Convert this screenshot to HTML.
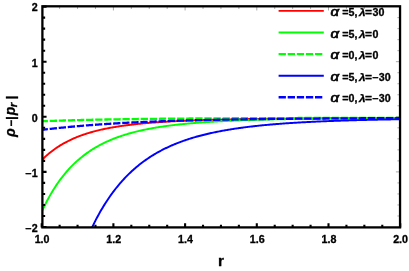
<!DOCTYPE html>
<html><head><meta charset="utf-8"><title>plot</title>
<style>html,body{margin:0;padding:0;background:#fff;width:409px;height:271px;overflow:hidden}</style>
</head><body>
<svg width="409" height="271" viewBox="0 0 409 271" style="position:absolute;left:0;top:0;will-change:transform;filter:blur(0.35px)">
<rect width="409" height="271" fill="#fff"/>
<defs><clipPath id="c"><rect x="42.4" y="6.3" width="357.65000000000003" height="221.1"/></clipPath></defs>
<g clip-path="url(#c)" fill="none" stroke-linejoin="round">
<path d="M42.2,159.68 L43.2,158.69 L44.2,157.72 L45.2,156.79 L46.2,155.88 L47.2,154.99 L48.2,154.13 L49.2,153.29 L50.2,152.48 L51.2,151.69 L52.2,150.92 L53.2,150.17 L54.2,149.44 L55.2,148.73 L56.2,148.03 L57.2,147.36 L58.2,146.70 L59.2,146.06 L60.2,145.44 L61.2,144.84 L62.2,144.25 L63.2,143.67 L64.2,143.11 L65.2,142.56 L66.2,142.03 L67.2,141.51 L68.2,141.00 L69.2,140.51 L70.2,140.03 L71.2,139.56 L72.2,139.10 L73.2,138.65 L74.2,138.22 L75.2,137.79 L76.2,137.38 L77.2,136.97 L78.2,136.58 L79.2,136.19 L80.2,135.82 L81.2,135.45 L82.2,135.09 L83.2,134.74 L84.2,134.40 L85.2,134.07 L86.2,133.74 L87.2,133.42 L88.2,133.11 L89.2,132.81 L90.2,132.51 L91.2,132.22 L92.2,131.94 L93.2,131.66 L94.2,131.39 L95.2,131.13 L96.2,130.87 L97.2,130.62 L98.2,130.37 L99.2,130.13 L100.2,129.90 L101.2,129.67 L102.2,129.44 L103.2,129.22 L104.2,129.01 L105.2,128.80 L106.2,128.59 L107.2,128.39 L108.2,128.19 L109.2,128.00 L110.2,127.81 L111.2,127.63 L112.2,127.45 L113.2,127.27 L114.2,127.10 L115.2,126.93 L116.2,126.77 L117.2,126.60 L118.2,126.45 L119.2,126.29 L120.2,126.14 L121.2,125.99 L122.2,125.85 L123.2,125.70 L124.2,125.57 L125.2,125.43 L126.2,125.30 L127.2,125.17 L128.2,125.04 L129.2,124.91 L130.2,124.79 L131.2,124.67 L132.2,124.55 L133.2,124.44 L134.2,124.32 L135.2,124.21 L136.2,124.10 L137.2,124.00 L138.2,123.89 L139.2,123.79 L140.2,123.69 L141.2,123.59 L142.2,123.50 L143.2,123.40 L144.2,123.31 L145.2,123.22 L146.2,123.13 L147.2,123.05 L148.2,122.96 L149.2,122.88 L150.2,122.80 L151.2,122.72 L152.2,122.64 L153.2,122.56 L154.2,122.48 L155.2,122.41 L156.2,122.34 L157.2,122.27 L158.2,122.20 L159.2,122.13 L160.2,122.06 L161.2,121.99 L162.2,121.93 L163.2,121.87 L164.2,121.80 L165.2,121.74 L166.2,121.68 L167.2,121.62 L168.2,121.56 L169.2,121.51 L170.2,121.45 L171.2,121.40 L172.2,121.34 L173.2,121.29 L174.2,121.24 L175.2,121.19 L176.2,121.14 L177.2,121.09 L178.2,121.04 L179.2,120.99 L180.2,120.95 L181.2,120.90 L182.2,120.86 L183.2,120.81 L184.2,120.77 L185.2,120.73 L186.2,120.68 L187.2,120.64 L188.2,120.60 L189.2,120.56 L190.2,120.52 L191.2,120.49 L192.2,120.45 L193.2,120.41 L194.2,120.38 L195.2,120.34 L196.2,120.31 L197.2,120.27 L198.2,120.24 L199.2,120.20 L200.2,120.17 L201.2,120.14 L202.2,120.11 L203.2,120.08 L204.2,120.05 L205.2,120.02 L206.2,119.99 L207.2,119.96 L208.2,119.93 L209.2,119.90 L210.2,119.87 L211.2,119.84 L212.2,119.82 L213.2,119.79 L214.2,119.77 L215.2,119.74 L216.2,119.71 L217.2,119.69 L218.2,119.67 L219.2,119.64 L220.2,119.62 L221.2,119.60 L222.2,119.57 L223.2,119.55 L224.2,119.53 L225.2,119.51 L226.2,119.48 L227.2,119.46 L228.2,119.44 L229.2,119.42 L230.2,119.40 L231.2,119.38 L232.2,119.36 L233.2,119.34 L234.2,119.32 L235.2,119.31 L236.2,119.29 L237.2,119.27 L238.2,119.25 L239.2,119.23 L240.2,119.22 L241.2,119.20 L242.2,119.18 L243.2,119.17 L244.2,119.15 L245.2,119.13 L246.2,119.12 L247.2,119.10 L248.2,119.09 L249.2,119.07 L250.2,119.06 L251.2,119.04 L252.2,119.03 L253.2,119.01 L254.2,119.00 L255.2,118.99 L256.2,118.97 L257.2,118.96 L258.2,118.95 L259.2,118.93 L260.2,118.92 L261.2,118.91 L262.2,118.89 L263.2,118.88 L264.2,118.87 L265.2,118.86 L266.2,118.85 L267.2,118.83 L268.2,118.82 L269.2,118.81 L270.2,118.80 L271.2,118.79 L272.2,118.78 L273.2,118.77 L274.2,118.76 L275.2,118.75 L276.2,118.74 L277.2,118.73 L278.2,118.72 L279.2,118.71 L280.2,118.70 L281.2,118.69 L282.2,118.68 L283.2,118.67 L284.2,118.66 L285.2,118.65 L286.2,118.64 L287.2,118.63 L288.2,118.62 L289.2,118.61 L290.2,118.60 L291.2,118.60 L292.2,118.59 L293.2,118.58 L294.2,118.57 L295.2,118.56 L296.2,118.55 L297.2,118.55 L298.2,118.54 L299.2,118.53 L300.2,118.52 L301.2,118.52 L302.2,118.51 L303.2,118.50 L304.2,118.49 L305.2,118.49 L306.2,118.48 L307.2,118.47 L308.2,118.46 L309.2,118.46 L310.2,118.45 L311.2,118.44 L312.2,118.44 L313.2,118.43 L314.2,118.42 L315.2,118.42 L316.2,118.41 L317.2,118.41 L318.2,118.40 L319.2,118.39 L320.2,118.39 L321.2,118.38 L322.2,118.38 L323.2,118.37 L324.2,118.36 L325.2,118.36 L326.2,118.35 L327.2,118.35 L328.2,118.34 L329.2,118.34 L330.2,118.33 L331.2,118.33 L332.2,118.32 L333.2,118.31 L334.2,118.31 L335.2,118.30 L336.2,118.30 L337.2,118.29 L338.2,118.29 L339.2,118.28 L340.2,118.28 L341.2,118.28 L342.2,118.27 L343.2,118.27 L344.2,118.26 L345.2,118.26 L346.2,118.25 L347.2,118.25 L348.2,118.24 L349.2,118.24 L350.2,118.23 L351.2,118.23 L352.2,118.23 L353.2,118.22 L354.2,118.22 L355.2,118.21 L356.2,118.21 L357.2,118.20 L358.2,118.20 L359.2,118.20 L360.2,118.19 L361.2,118.19 L362.2,118.19 L363.2,118.18 L364.2,118.18 L365.2,118.17 L366.2,118.17 L367.2,118.17 L368.2,118.16 L369.2,118.16 L370.2,118.16 L371.2,118.15 L372.2,118.15 L373.2,118.14 L374.2,118.14 L375.2,118.14 L376.2,118.13 L377.2,118.13 L378.2,118.13 L379.2,118.12 L380.2,118.12 L381.2,118.12 L382.2,118.11 L383.2,118.11 L384.2,118.11 L385.2,118.11 L386.2,118.10 L387.2,118.10 L388.2,118.10 L389.2,118.09 L390.2,118.09 L391.2,118.09 L392.2,118.08 L393.2,118.08 L394.2,118.08 L395.2,118.08 L396.2,118.07 L397.2,118.07 L398.2,118.07 L399.2,118.06" stroke="#ff0000" stroke-width="1.95"/>
<path d="M42.2,210.69 L43.2,208.55 L44.2,206.48 L45.2,204.45 L46.2,202.48 L47.2,200.56 L48.2,198.70 L49.2,196.88 L50.2,195.11 L51.2,193.38 L52.2,191.70 L53.2,190.06 L54.2,188.46 L55.2,186.91 L56.2,185.39 L57.2,183.91 L58.2,182.47 L59.2,181.06 L60.2,179.69 L61.2,178.36 L62.2,177.05 L63.2,175.78 L64.2,174.54 L65.2,173.33 L66.2,172.15 L67.2,171.00 L68.2,169.87 L69.2,168.77 L70.2,167.70 L71.2,166.66 L72.2,165.64 L73.2,164.64 L74.2,163.67 L75.2,162.72 L76.2,161.79 L77.2,160.88 L78.2,160.00 L79.2,159.14 L80.2,158.29 L81.2,157.47 L82.2,156.66 L83.2,155.87 L84.2,155.11 L85.2,154.35 L86.2,153.62 L87.2,152.90 L88.2,152.20 L89.2,151.51 L90.2,150.84 L91.2,150.19 L92.2,149.55 L93.2,148.92 L94.2,148.31 L95.2,147.71 L96.2,147.13 L97.2,146.55 L98.2,145.99 L99.2,145.45 L100.2,144.91 L101.2,144.39 L102.2,143.88 L103.2,143.37 L104.2,142.88 L105.2,142.40 L106.2,141.93 L107.2,141.48 L108.2,141.03 L109.2,140.59 L110.2,140.16 L111.2,139.73 L112.2,139.32 L113.2,138.92 L114.2,138.52 L115.2,138.14 L116.2,137.76 L117.2,137.39 L118.2,137.02 L119.2,136.67 L120.2,136.32 L121.2,135.98 L122.2,135.65 L123.2,135.32 L124.2,135.00 L125.2,134.69 L126.2,134.38 L127.2,134.08 L128.2,133.78 L129.2,133.50 L130.2,133.21 L131.2,132.94 L132.2,132.66 L133.2,132.40 L134.2,132.14 L135.2,131.88 L136.2,131.63 L137.2,131.39 L138.2,131.15 L139.2,130.91 L140.2,130.68 L141.2,130.46 L142.2,130.23 L143.2,130.02 L144.2,129.80 L145.2,129.59 L146.2,129.39 L147.2,129.19 L148.2,128.99 L149.2,128.80 L150.2,128.61 L151.2,128.42 L152.2,128.24 L153.2,128.06 L154.2,127.89 L155.2,127.72 L156.2,127.55 L157.2,127.38 L158.2,127.22 L159.2,127.06 L160.2,126.90 L161.2,126.75 L162.2,126.60 L163.2,126.45 L164.2,126.31 L165.2,126.17 L166.2,126.03 L167.2,125.89 L168.2,125.76 L169.2,125.63 L170.2,125.50 L171.2,125.37 L172.2,125.25 L173.2,125.12 L174.2,125.00 L175.2,124.89 L176.2,124.77 L177.2,124.66 L178.2,124.55 L179.2,124.44 L180.2,124.33 L181.2,124.22 L182.2,124.12 L183.2,124.02 L184.2,123.92 L185.2,123.82 L186.2,123.73 L187.2,123.63 L188.2,123.54 L189.2,123.45 L190.2,123.36 L191.2,123.27 L192.2,123.18 L193.2,123.10 L194.2,123.02 L195.2,122.93 L196.2,122.85 L197.2,122.77 L198.2,122.70 L199.2,122.62 L200.2,122.55 L201.2,122.47 L202.2,122.40 L203.2,122.33 L204.2,122.26 L205.2,122.19 L206.2,122.12 L207.2,122.06 L208.2,121.99 L209.2,121.93 L210.2,121.86 L211.2,121.80 L212.2,121.74 L213.2,121.68 L214.2,121.62 L215.2,121.56 L216.2,121.51 L217.2,121.45 L218.2,121.40 L219.2,121.34 L220.2,121.29 L221.2,121.24 L222.2,121.19 L223.2,121.14 L224.2,121.09 L225.2,121.04 L226.2,120.99 L227.2,120.94 L228.2,120.90 L229.2,120.85 L230.2,120.80 L231.2,120.76 L232.2,120.72 L233.2,120.67 L234.2,120.63 L235.2,120.59 L236.2,120.55 L237.2,120.51 L238.2,120.47 L239.2,120.43 L240.2,120.39 L241.2,120.36 L242.2,120.32 L243.2,120.28 L244.2,120.25 L245.2,120.21 L246.2,120.18 L247.2,120.14 L248.2,120.11 L249.2,120.08 L250.2,120.04 L251.2,120.01 L252.2,119.98 L253.2,119.95 L254.2,119.92 L255.2,119.89 L256.2,119.86 L257.2,119.83 L258.2,119.80 L259.2,119.77 L260.2,119.74 L261.2,119.72 L262.2,119.69 L263.2,119.66 L264.2,119.64 L265.2,119.61 L266.2,119.59 L267.2,119.56 L268.2,119.54 L269.2,119.51 L270.2,119.49 L271.2,119.46 L272.2,119.44 L273.2,119.42 L274.2,119.40 L275.2,119.37 L276.2,119.35 L277.2,119.33 L278.2,119.31 L279.2,119.29 L280.2,119.27 L281.2,119.25 L282.2,119.23 L283.2,119.21 L284.2,119.19 L285.2,119.17 L286.2,119.15 L287.2,119.13 L288.2,119.11 L289.2,119.10 L290.2,119.08 L291.2,119.06 L292.2,119.04 L293.2,119.03 L294.2,119.01 L295.2,118.99 L296.2,118.98 L297.2,118.96 L298.2,118.94 L299.2,118.93 L300.2,118.91 L301.2,118.90 L302.2,118.88 L303.2,118.87 L304.2,118.85 L305.2,118.84 L306.2,118.83 L307.2,118.81 L308.2,118.80 L309.2,118.78 L310.2,118.77 L311.2,118.76 L312.2,118.74 L313.2,118.73 L314.2,118.72 L315.2,118.71 L316.2,118.69 L317.2,118.68 L318.2,118.67 L319.2,118.66 L320.2,118.65 L321.2,118.64 L322.2,118.62 L323.2,118.61 L324.2,118.60 L325.2,118.59 L326.2,118.58 L327.2,118.57 L328.2,118.56 L329.2,118.55 L330.2,118.54 L331.2,118.53 L332.2,118.52 L333.2,118.51 L334.2,118.50 L335.2,118.49 L336.2,118.48 L337.2,118.47 L338.2,118.46 L339.2,118.45 L340.2,118.44 L341.2,118.44 L342.2,118.43 L343.2,118.42 L344.2,118.41 L345.2,118.40 L346.2,118.39 L347.2,118.39 L348.2,118.38 L349.2,118.37 L350.2,118.36 L351.2,118.35 L352.2,118.35 L353.2,118.34 L354.2,118.33 L355.2,118.32 L356.2,118.32 L357.2,118.31 L358.2,118.30 L359.2,118.30 L360.2,118.29 L361.2,118.28 L362.2,118.28 L363.2,118.27 L364.2,118.26 L365.2,118.26 L366.2,118.25 L367.2,118.24 L368.2,118.24 L369.2,118.23 L370.2,118.23 L371.2,118.22 L372.2,118.21 L373.2,118.21 L374.2,118.20 L375.2,118.20 L376.2,118.19 L377.2,118.18 L378.2,118.18 L379.2,118.17 L380.2,118.17 L381.2,118.16 L382.2,118.16 L383.2,118.15 L384.2,118.15 L385.2,118.14 L386.2,118.14 L387.2,118.13 L388.2,118.13 L389.2,118.12 L390.2,118.12 L391.2,118.11 L392.2,118.11 L393.2,118.10 L394.2,118.10 L395.2,118.10 L396.2,118.09 L397.2,118.09 L398.2,118.08 L399.2,118.08" stroke="#00ff00" stroke-width="1.95"/>
<path d="M42.2,121.26 L43.2,121.22 L44.2,121.18 L45.2,121.14 L46.2,121.10 L47.2,121.06 L48.2,121.02 L49.2,120.99 L50.2,120.95 L51.2,120.91 L52.2,120.88 L53.2,120.84 L54.2,120.81 L55.2,120.77 L56.2,120.74 L57.2,120.71 L58.2,120.67 L59.2,120.64 L60.2,120.61 L61.2,120.58 L62.2,120.54 L63.2,120.51 L64.2,120.48 L65.2,120.45 L66.2,120.42 L67.2,120.39 L68.2,120.36 L69.2,120.34 L70.2,120.31 L71.2,120.28 L72.2,120.25 L73.2,120.22 L74.2,120.20 L75.2,120.17 L76.2,120.15 L77.2,120.12 L78.2,120.09 L79.2,120.07 L80.2,120.04 L81.2,120.02 L82.2,120.00 L83.2,119.97 L84.2,119.95 L85.2,119.92 L86.2,119.90 L87.2,119.88 L88.2,119.86 L89.2,119.83 L90.2,119.81 L91.2,119.79 L92.2,119.77 L93.2,119.75 L94.2,119.73 L95.2,119.71 L96.2,119.69 L97.2,119.67 L98.2,119.65 L99.2,119.63 L100.2,119.61 L101.2,119.59 L102.2,119.57 L103.2,119.55 L104.2,119.53 L105.2,119.51 L106.2,119.49 L107.2,119.48 L108.2,119.46 L109.2,119.44 L110.2,119.42 L111.2,119.41 L112.2,119.39 L113.2,119.37 L114.2,119.36 L115.2,119.34 L116.2,119.33 L117.2,119.31 L118.2,119.29 L119.2,119.28 L120.2,119.26 L121.2,119.25 L122.2,119.23 L123.2,119.22 L124.2,119.20 L125.2,119.19 L126.2,119.17 L127.2,119.16 L128.2,119.15 L129.2,119.13 L130.2,119.12 L131.2,119.11 L132.2,119.09 L133.2,119.08 L134.2,119.07 L135.2,119.05 L136.2,119.04 L137.2,119.03 L138.2,119.01 L139.2,119.00 L140.2,118.99 L141.2,118.98 L142.2,118.97 L143.2,118.95 L144.2,118.94 L145.2,118.93 L146.2,118.92 L147.2,118.91 L148.2,118.90 L149.2,118.89 L150.2,118.87 L151.2,118.86 L152.2,118.85 L153.2,118.84 L154.2,118.83 L155.2,118.82 L156.2,118.81 L157.2,118.80 L158.2,118.79 L159.2,118.78 L160.2,118.77 L161.2,118.76 L162.2,118.75 L163.2,118.74 L164.2,118.73 L165.2,118.72 L166.2,118.71 L167.2,118.70 L168.2,118.70 L169.2,118.69 L170.2,118.68 L171.2,118.67 L172.2,118.66 L173.2,118.65 L174.2,118.64 L175.2,118.63 L176.2,118.63 L177.2,118.62 L178.2,118.61 L179.2,118.60 L180.2,118.59 L181.2,118.58 L182.2,118.58 L183.2,118.57 L184.2,118.56 L185.2,118.55 L186.2,118.55 L187.2,118.54 L188.2,118.53 L189.2,118.52 L190.2,118.52 L191.2,118.51 L192.2,118.50 L193.2,118.50 L194.2,118.49 L195.2,118.48 L196.2,118.47 L197.2,118.47 L198.2,118.46 L199.2,118.45 L200.2,118.45 L201.2,118.44 L202.2,118.43 L203.2,118.43 L204.2,118.42 L205.2,118.42 L206.2,118.41 L207.2,118.40 L208.2,118.40 L209.2,118.39 L210.2,118.39 L211.2,118.38 L212.2,118.37 L213.2,118.37 L214.2,118.36 L215.2,118.36 L216.2,118.35 L217.2,118.34 L218.2,118.34 L219.2,118.33 L220.2,118.33 L221.2,118.32 L222.2,118.32 L223.2,118.31 L224.2,118.31 L225.2,118.30 L226.2,118.30 L227.2,118.29 L228.2,118.29 L229.2,118.28 L230.2,118.28 L231.2,118.27 L232.2,118.27 L233.2,118.26 L234.2,118.26 L235.2,118.25 L236.2,118.25 L237.2,118.24 L238.2,118.24 L239.2,118.23 L240.2,118.23 L241.2,118.22 L242.2,118.22 L243.2,118.22 L244.2,118.21 L245.2,118.21 L246.2,118.20 L247.2,118.20 L248.2,118.19 L249.2,118.19 L250.2,118.19 L251.2,118.18 L252.2,118.18 L253.2,118.17 L254.2,118.17 L255.2,118.17 L256.2,118.16 L257.2,118.16 L258.2,118.15 L259.2,118.15 L260.2,118.15 L261.2,118.14 L262.2,118.14 L263.2,118.13 L264.2,118.13 L265.2,118.13 L266.2,118.12 L267.2,118.12 L268.2,118.12 L269.2,118.11 L270.2,118.11 L271.2,118.11 L272.2,118.10 L273.2,118.10 L274.2,118.10 L275.2,118.09 L276.2,118.09 L277.2,118.09 L278.2,118.08 L279.2,118.08 L280.2,118.08 L281.2,118.07 L282.2,118.07 L283.2,118.07 L284.2,118.06 L285.2,118.06 L286.2,118.06 L287.2,118.05 L288.2,118.05 L289.2,118.05 L290.2,118.05 L291.2,118.04 L292.2,118.04 L293.2,118.04 L294.2,118.03 L295.2,118.03 L296.2,118.03 L297.2,118.03 L298.2,118.02 L299.2,118.02 L300.2,118.02 L301.2,118.01 L302.2,118.01 L303.2,118.01 L304.2,118.01 L305.2,118.00 L306.2,118.00 L307.2,118.00 L308.2,118.00 L309.2,117.99 L310.2,117.99 L311.2,117.99 L312.2,117.99 L313.2,117.98 L314.2,117.98 L315.2,117.98 L316.2,117.98 L317.2,117.97 L318.2,117.97 L319.2,117.97 L320.2,117.97 L321.2,117.97 L322.2,117.96 L323.2,117.96 L324.2,117.96 L325.2,117.96 L326.2,117.95 L327.2,117.95 L328.2,117.95 L329.2,117.95 L330.2,117.95 L331.2,117.94 L332.2,117.94 L333.2,117.94 L334.2,117.94 L335.2,117.93 L336.2,117.93 L337.2,117.93 L338.2,117.93 L339.2,117.93 L340.2,117.92 L341.2,117.92 L342.2,117.92 L343.2,117.92 L344.2,117.92 L345.2,117.91 L346.2,117.91 L347.2,117.91 L348.2,117.91 L349.2,117.91 L350.2,117.91 L351.2,117.90 L352.2,117.90 L353.2,117.90 L354.2,117.90 L355.2,117.90 L356.2,117.89 L357.2,117.89 L358.2,117.89 L359.2,117.89 L360.2,117.89 L361.2,117.89 L362.2,117.88 L363.2,117.88 L364.2,117.88 L365.2,117.88 L366.2,117.88 L367.2,117.88 L368.2,117.87 L369.2,117.87 L370.2,117.87 L371.2,117.87 L372.2,117.87 L373.2,117.87 L374.2,117.87 L375.2,117.86 L376.2,117.86 L377.2,117.86 L378.2,117.86 L379.2,117.86 L380.2,117.86 L381.2,117.85 L382.2,117.85 L383.2,117.85 L384.2,117.85 L385.2,117.85 L386.2,117.85 L387.2,117.85 L388.2,117.84 L389.2,117.84 L390.2,117.84 L391.2,117.84 L392.2,117.84 L393.2,117.84 L394.2,117.84 L395.2,117.84 L396.2,117.83 L397.2,117.83 L398.2,117.83 L399.2,117.83" stroke="#00ff00" stroke-width="2.3" stroke-dasharray="7.3 1.8" stroke-dashoffset="1.6"/>
<path d="M42.2,420.61 L43.2,414.08 L44.2,407.71 L45.2,401.49 L46.2,395.42 L47.2,389.50 L48.2,383.72 L49.2,378.08 L50.2,372.58 L51.2,367.21 L52.2,361.97 L53.2,356.85 L54.2,351.85 L55.2,346.97 L56.2,342.21 L57.2,337.55 L58.2,333.01 L59.2,328.58 L60.2,324.24 L61.2,320.01 L62.2,315.88 L63.2,311.84 L64.2,307.89 L65.2,304.04 L66.2,300.27 L67.2,296.59 L68.2,293.00 L69.2,289.48 L70.2,286.05 L71.2,282.69 L72.2,279.41 L73.2,276.21 L74.2,273.07 L75.2,270.01 L76.2,267.01 L77.2,264.08 L78.2,261.22 L79.2,258.42 L80.2,255.68 L81.2,253.00 L82.2,250.39 L83.2,247.82 L84.2,245.32 L85.2,242.87 L86.2,240.47 L87.2,238.13 L88.2,235.83 L89.2,233.59 L90.2,231.39 L91.2,229.24 L92.2,227.14 L93.2,225.08 L94.2,223.07 L95.2,221.10 L96.2,219.17 L97.2,217.28 L98.2,215.43 L99.2,213.62 L100.2,211.85 L101.2,210.11 L102.2,208.42 L103.2,206.75 L104.2,205.12 L105.2,203.53 L106.2,201.97 L107.2,200.44 L108.2,198.94 L109.2,197.48 L110.2,196.04 L111.2,194.63 L112.2,193.25 L113.2,191.90 L114.2,190.58 L115.2,189.28 L116.2,188.01 L117.2,186.77 L118.2,185.55 L119.2,184.36 L120.2,183.18 L121.2,182.04 L122.2,180.91 L123.2,179.81 L124.2,178.73 L125.2,177.67 L126.2,176.63 L127.2,175.61 L128.2,174.62 L129.2,173.64 L130.2,172.68 L131.2,171.74 L132.2,170.82 L133.2,169.91 L134.2,169.03 L135.2,168.16 L136.2,167.30 L137.2,166.47 L138.2,165.65 L139.2,164.84 L140.2,164.05 L141.2,163.28 L142.2,162.52 L143.2,161.78 L144.2,161.04 L145.2,160.33 L146.2,159.62 L147.2,158.93 L148.2,158.26 L149.2,157.59 L150.2,156.94 L151.2,156.30 L152.2,155.67 L153.2,155.05 L154.2,154.45 L155.2,153.85 L156.2,153.27 L157.2,152.70 L158.2,152.14 L159.2,151.59 L160.2,151.04 L161.2,150.51 L162.2,149.99 L163.2,149.48 L164.2,148.98 L165.2,148.48 L166.2,148.00 L167.2,147.52 L168.2,147.05 L169.2,146.59 L170.2,146.14 L171.2,145.70 L172.2,145.26 L173.2,144.83 L174.2,144.41 L175.2,144.00 L176.2,143.60 L177.2,143.20 L178.2,142.81 L179.2,142.42 L180.2,142.04 L181.2,141.67 L182.2,141.31 L183.2,140.95 L184.2,140.60 L185.2,140.25 L186.2,139.91 L187.2,139.58 L188.2,139.25 L189.2,138.93 L190.2,138.61 L191.2,138.30 L192.2,137.99 L193.2,137.69 L194.2,137.39 L195.2,137.10 L196.2,136.81 L197.2,136.53 L198.2,136.26 L199.2,135.98 L200.2,135.72 L201.2,135.45 L202.2,135.19 L203.2,134.94 L204.2,134.69 L205.2,134.44 L206.2,134.20 L207.2,133.96 L208.2,133.73 L209.2,133.50 L210.2,133.27 L211.2,133.05 L212.2,132.83 L213.2,132.62 L214.2,132.40 L215.2,132.20 L216.2,131.99 L217.2,131.79 L218.2,131.59 L219.2,131.39 L220.2,131.20 L221.2,131.01 L222.2,130.83 L223.2,130.64 L224.2,130.46 L225.2,130.29 L226.2,130.11 L227.2,129.94 L228.2,129.77 L229.2,129.60 L230.2,129.44 L231.2,129.28 L232.2,129.12 L233.2,128.96 L234.2,128.81 L235.2,128.66 L236.2,128.51 L237.2,128.36 L238.2,128.22 L239.2,128.08 L240.2,127.94 L241.2,127.80 L242.2,127.66 L243.2,127.53 L244.2,127.40 L245.2,127.27 L246.2,127.14 L247.2,127.02 L248.2,126.89 L249.2,126.77 L250.2,126.65 L251.2,126.53 L252.2,126.42 L253.2,126.30 L254.2,126.19 L255.2,126.08 L256.2,125.97 L257.2,125.86 L258.2,125.75 L259.2,125.65 L260.2,125.55 L261.2,125.44 L262.2,125.34 L263.2,125.25 L264.2,125.15 L265.2,125.05 L266.2,124.96 L267.2,124.87 L268.2,124.77 L269.2,124.68 L270.2,124.59 L271.2,124.51 L272.2,124.42 L273.2,124.34 L274.2,124.25 L275.2,124.17 L276.2,124.09 L277.2,124.01 L278.2,123.93 L279.2,123.85 L280.2,123.77 L281.2,123.70 L282.2,123.62 L283.2,123.55 L284.2,123.48 L285.2,123.40 L286.2,123.33 L287.2,123.26 L288.2,123.20 L289.2,123.13 L290.2,123.06 L291.2,123.00 L292.2,122.93 L293.2,122.87 L294.2,122.80 L295.2,122.74 L296.2,122.68 L297.2,122.62 L298.2,122.56 L299.2,122.50 L300.2,122.44 L301.2,122.39 L302.2,122.33 L303.2,122.28 L304.2,122.22 L305.2,122.17 L306.2,122.11 L307.2,122.06 L308.2,122.01 L309.2,121.96 L310.2,121.91 L311.2,121.86 L312.2,121.81 L313.2,121.76 L314.2,121.71 L315.2,121.66 L316.2,121.62 L317.2,121.57 L318.2,121.53 L319.2,121.48 L320.2,121.44 L321.2,121.39 L322.2,121.35 L323.2,121.31 L324.2,121.27 L325.2,121.23 L326.2,121.18 L327.2,121.14 L328.2,121.10 L329.2,121.07 L330.2,121.03 L331.2,120.99 L332.2,120.95 L333.2,120.91 L334.2,120.88 L335.2,120.84 L336.2,120.81 L337.2,120.77 L338.2,120.74 L339.2,120.70 L340.2,120.67 L341.2,120.63 L342.2,120.60 L343.2,120.57 L344.2,120.54 L345.2,120.50 L346.2,120.47 L347.2,120.44 L348.2,120.41 L349.2,120.38 L350.2,120.35 L351.2,120.32 L352.2,120.29 L353.2,120.26 L354.2,120.24 L355.2,120.21 L356.2,120.18 L357.2,120.15 L358.2,120.13 L359.2,120.10 L360.2,120.07 L361.2,120.05 L362.2,120.02 L363.2,120.00 L364.2,119.97 L365.2,119.95 L366.2,119.92 L367.2,119.90 L368.2,119.87 L369.2,119.85 L370.2,119.83 L371.2,119.80 L372.2,119.78 L373.2,119.76 L374.2,119.74 L375.2,119.71 L376.2,119.69 L377.2,119.67 L378.2,119.65 L379.2,119.63 L380.2,119.61 L381.2,119.59 L382.2,119.57 L383.2,119.55 L384.2,119.53 L385.2,119.51 L386.2,119.49 L387.2,119.47 L388.2,119.45 L389.2,119.43 L390.2,119.42 L391.2,119.40 L392.2,119.38 L393.2,119.36 L394.2,119.35 L395.2,119.33 L396.2,119.31 L397.2,119.29 L398.2,119.28 L399.2,119.26" stroke="#0000ff" stroke-width="1.95"/>
<path d="M42.2,129.77 L43.2,129.66 L44.2,129.54 L45.2,129.43 L46.2,129.32 L47.2,129.21 L48.2,129.10 L49.2,128.99 L50.2,128.88 L51.2,128.77 L52.2,128.66 L53.2,128.56 L54.2,128.45 L55.2,128.34 L56.2,128.24 L57.2,128.13 L58.2,128.03 L59.2,127.93 L60.2,127.83 L61.2,127.72 L62.2,127.62 L63.2,127.52 L64.2,127.42 L65.2,127.33 L66.2,127.23 L67.2,127.13 L68.2,127.04 L69.2,126.94 L70.2,126.85 L71.2,126.75 L72.2,126.66 L73.2,126.57 L74.2,126.48 L75.2,126.39 L76.2,126.30 L77.2,126.21 L78.2,126.12 L79.2,126.03 L80.2,125.95 L81.2,125.86 L82.2,125.78 L83.2,125.69 L84.2,125.61 L85.2,125.53 L86.2,125.45 L87.2,125.37 L88.2,125.29 L89.2,125.21 L90.2,125.13 L91.2,125.05 L92.2,124.98 L93.2,124.90 L94.2,124.83 L95.2,124.75 L96.2,124.68 L97.2,124.61 L98.2,124.54 L99.2,124.46 L100.2,124.39 L101.2,124.32 L102.2,124.26 L103.2,124.19 L104.2,124.12 L105.2,124.05 L106.2,123.99 L107.2,123.92 L108.2,123.86 L109.2,123.79 L110.2,123.73 L111.2,123.67 L112.2,123.60 L113.2,123.54 L114.2,123.48 L115.2,123.42 L116.2,123.36 L117.2,123.30 L118.2,123.25 L119.2,123.19 L120.2,123.13 L121.2,123.08 L122.2,123.02 L123.2,122.97 L124.2,122.91 L125.2,122.86 L126.2,122.80 L127.2,122.75 L128.2,122.70 L129.2,122.65 L130.2,122.60 L131.2,122.55 L132.2,122.50 L133.2,122.45 L134.2,122.40 L135.2,122.35 L136.2,122.30 L137.2,122.26 L138.2,122.21 L139.2,122.16 L140.2,122.12 L141.2,122.07 L142.2,122.03 L143.2,121.98 L144.2,121.94 L145.2,121.90 L146.2,121.86 L147.2,121.81 L148.2,121.77 L149.2,121.73 L150.2,121.69 L151.2,121.65 L152.2,121.61 L153.2,121.57 L154.2,121.53 L155.2,121.49 L156.2,121.45 L157.2,121.42 L158.2,121.38 L159.2,121.34 L160.2,121.31 L161.2,121.27 L162.2,121.23 L163.2,121.20 L164.2,121.16 L165.2,121.13 L166.2,121.09 L167.2,121.06 L168.2,121.03 L169.2,120.99 L170.2,120.96 L171.2,120.93 L172.2,120.90 L173.2,120.87 L174.2,120.83 L175.2,120.80 L176.2,120.77 L177.2,120.74 L178.2,120.71 L179.2,120.68 L180.2,120.65 L181.2,120.62 L182.2,120.60 L183.2,120.57 L184.2,120.54 L185.2,120.51 L186.2,120.48 L187.2,120.46 L188.2,120.43 L189.2,120.40 L190.2,120.38 L191.2,120.35 L192.2,120.33 L193.2,120.30 L194.2,120.27 L195.2,120.25 L196.2,120.23 L197.2,120.20 L198.2,120.18 L199.2,120.15 L200.2,120.13 L201.2,120.11 L202.2,120.08 L203.2,120.06 L204.2,120.04 L205.2,120.02 L206.2,119.99 L207.2,119.97 L208.2,119.95 L209.2,119.93 L210.2,119.91 L211.2,119.89 L212.2,119.87 L213.2,119.84 L214.2,119.82 L215.2,119.80 L216.2,119.78 L217.2,119.76 L218.2,119.75 L219.2,119.73 L220.2,119.71 L221.2,119.69 L222.2,119.67 L223.2,119.65 L224.2,119.63 L225.2,119.61 L226.2,119.60 L227.2,119.58 L228.2,119.56 L229.2,119.54 L230.2,119.53 L231.2,119.51 L232.2,119.49 L233.2,119.48 L234.2,119.46 L235.2,119.44 L236.2,119.43 L237.2,119.41 L238.2,119.40 L239.2,119.38 L240.2,119.36 L241.2,119.35 L242.2,119.33 L243.2,119.32 L244.2,119.30 L245.2,119.29 L246.2,119.27 L247.2,119.26 L248.2,119.25 L249.2,119.23 L250.2,119.22 L251.2,119.20 L252.2,119.19 L253.2,119.18 L254.2,119.16 L255.2,119.15 L256.2,119.14 L257.2,119.12 L258.2,119.11 L259.2,119.10 L260.2,119.09 L261.2,119.07 L262.2,119.06 L263.2,119.05 L264.2,119.04 L265.2,119.02 L266.2,119.01 L267.2,119.00 L268.2,118.99 L269.2,118.98 L270.2,118.97 L271.2,118.95 L272.2,118.94 L273.2,118.93 L274.2,118.92 L275.2,118.91 L276.2,118.90 L277.2,118.89 L278.2,118.88 L279.2,118.87 L280.2,118.86 L281.2,118.85 L282.2,118.84 L283.2,118.83 L284.2,118.82 L285.2,118.81 L286.2,118.80 L287.2,118.79 L288.2,118.78 L289.2,118.77 L290.2,118.76 L291.2,118.75 L292.2,118.74 L293.2,118.73 L294.2,118.72 L295.2,118.71 L296.2,118.70 L297.2,118.70 L298.2,118.69 L299.2,118.68 L300.2,118.67 L301.2,118.66 L302.2,118.65 L303.2,118.64 L304.2,118.64 L305.2,118.63 L306.2,118.62 L307.2,118.61 L308.2,118.60 L309.2,118.60 L310.2,118.59 L311.2,118.58 L312.2,118.57 L313.2,118.57 L314.2,118.56 L315.2,118.55 L316.2,118.54 L317.2,118.54 L318.2,118.53 L319.2,118.52 L320.2,118.51 L321.2,118.51 L322.2,118.50 L323.2,118.49 L324.2,118.49 L325.2,118.48 L326.2,118.47 L327.2,118.47 L328.2,118.46 L329.2,118.45 L330.2,118.45 L331.2,118.44 L332.2,118.43 L333.2,118.43 L334.2,118.42 L335.2,118.42 L336.2,118.41 L337.2,118.40 L338.2,118.40 L339.2,118.39 L340.2,118.39 L341.2,118.38 L342.2,118.37 L343.2,118.37 L344.2,118.36 L345.2,118.36 L346.2,118.35 L347.2,118.35 L348.2,118.34 L349.2,118.33 L350.2,118.33 L351.2,118.32 L352.2,118.32 L353.2,118.31 L354.2,118.31 L355.2,118.30 L356.2,118.30 L357.2,118.29 L358.2,118.29 L359.2,118.28 L360.2,118.28 L361.2,118.27 L362.2,118.27 L363.2,118.26 L364.2,118.26 L365.2,118.25 L366.2,118.25 L367.2,118.24 L368.2,118.24 L369.2,118.23 L370.2,118.23 L371.2,118.23 L372.2,118.22 L373.2,118.22 L374.2,118.21 L375.2,118.21 L376.2,118.20 L377.2,118.20 L378.2,118.20 L379.2,118.19 L380.2,118.19 L381.2,118.18 L382.2,118.18 L383.2,118.17 L384.2,118.17 L385.2,118.17 L386.2,118.16 L387.2,118.16 L388.2,118.16 L389.2,118.15 L390.2,118.15 L391.2,118.14 L392.2,118.14 L393.2,118.14 L394.2,118.13 L395.2,118.13 L396.2,118.13 L397.2,118.12 L398.2,118.12 L399.2,118.11" stroke="#0000ff" stroke-width="2.3" stroke-dasharray="7.3 1.8" stroke-dashoffset="1.6"/>
</g>
<path d="M41.70,227.4 v-4.15 M59.63,227.4 v-2.75 M77.55,227.4 v-2.75 M95.47,227.4 v-2.75 M113.40,227.4 v-4.15 M131.32,227.4 v-2.75 M149.25,227.4 v-2.75 M167.18,227.4 v-2.75 M185.10,227.4 v-4.15 M203.02,227.4 v-2.75 M220.95,227.4 v-2.75 M238.88,227.4 v-2.75 M256.80,227.4 v-4.15 M274.72,227.4 v-2.75 M292.65,227.4 v-2.75 M310.57,227.4 v-2.75 M328.50,227.4 v-4.15 M346.43,227.4 v-2.75 M364.35,227.4 v-2.75 M382.28,227.4 v-2.75 M400.20,227.4 v-4.15 M42.4,227.00 h4.15 M42.4,215.98 h2.75 M42.4,204.96 h2.75 M42.4,193.94 h2.75 M42.4,182.92 h2.75 M42.4,171.90 h4.15 M42.4,160.88 h2.75 M42.4,149.86 h2.75 M42.4,138.84 h2.75 M42.4,127.82 h2.75 M42.4,116.80 h4.15 M42.4,105.78 h2.75 M42.4,94.76 h2.75 M42.4,83.74 h2.75 M42.4,72.72 h2.75 M42.4,61.70 h4.15 M42.4,50.68 h2.75 M42.4,39.66 h2.75 M42.4,28.64 h2.75 M42.4,17.62 h2.75 M42.4,6.60 h4.15" stroke="#000" stroke-width="2.1" fill="none"/>
<path d="M59.63,6.3 v2.65 M77.55,6.3 v2.65 M95.47,6.3 v2.65 M113.40,6.3 v4.15 M131.32,6.3 v2.65 M149.25,6.3 v2.65 M167.18,6.3 v2.65 M185.10,6.3 v4.15 M203.02,6.3 v2.65 M220.95,6.3 v2.65 M238.88,6.3 v2.65 M256.80,6.3 v4.15 M274.72,6.3 v2.65 M292.65,6.3 v2.65 M310.57,6.3 v2.65 M328.50,6.3 v4.15 M346.43,6.3 v2.65 M364.35,6.3 v2.65 M382.28,6.3 v2.65 M400.05,215.98 h-2.65 M400.05,204.96 h-2.65 M400.05,193.94 h-2.65 M400.05,182.92 h-2.65 M400.05,171.90 h-4.15 M400.05,160.88 h-2.65 M400.05,149.86 h-2.65 M400.05,138.84 h-2.65 M400.05,127.82 h-2.65 M400.05,116.80 h-4.15 M400.05,105.78 h-2.65 M400.05,94.76 h-2.65 M400.05,83.74 h-2.65 M400.05,72.72 h-2.65 M400.05,61.70 h-4.15 M400.05,50.68 h-2.65 M400.05,39.66 h-2.65 M400.05,28.64 h-2.65 M400.05,17.62 h-2.65" stroke="#000" stroke-width="0.35" fill="none"/>
<rect x="42.4" y="6.3" width="357.65000000000003" height="221.1" fill="none" stroke="#000" stroke-width="2.3"/>
<g font-family="Liberation Sans, sans-serif" font-weight="bold" fill="#000">
<text transform="translate(37.80,11.40) scale(1.07,1)" text-anchor="end" font-size="10px" stroke="#000" stroke-width="0.3" >2</text>
<text transform="translate(37.80,66.50) scale(1.07,1)" text-anchor="end" font-size="10px" stroke="#000" stroke-width="0.3" >1</text>
<text transform="translate(37.80,121.60) scale(1.07,1)" text-anchor="end" font-size="10px" stroke="#000" stroke-width="0.3" >0</text>
<text transform="translate(37.80,176.70) scale(1.07,1)" text-anchor="end" font-size="10px" stroke="#000" stroke-width="0.3" >−1</text>
<text transform="translate(37.80,231.80) scale(1.07,1)" text-anchor="end" font-size="10px" stroke="#000" stroke-width="0.3" >−2</text>
<text transform="translate(42.10,242.50) scale(1.07,1)" text-anchor="middle" font-size="10px" stroke="#000" stroke-width="0.3" >1.0</text>
<text transform="translate(113.80,242.50) scale(1.07,1)" text-anchor="middle" font-size="10px" stroke="#000" stroke-width="0.3" >1.2</text>
<text transform="translate(185.50,242.50) scale(1.07,1)" text-anchor="middle" font-size="10px" stroke="#000" stroke-width="0.3" >1.4</text>
<text transform="translate(257.20,242.50) scale(1.07,1)" text-anchor="middle" font-size="10px" stroke="#000" stroke-width="0.3" >1.6</text>
<text transform="translate(328.90,242.50) scale(1.07,1)" text-anchor="middle" font-size="10px" stroke="#000" stroke-width="0.3" >1.8</text>
<text transform="translate(400.60,242.50) scale(1.07,1)" text-anchor="middle" font-size="10px" stroke="#000" stroke-width="0.3" >2.0</text>
<text transform="translate(221.00,265.70) scale(1.05,1)" text-anchor="middle" font-size="14.5px" stroke="#000" stroke-width="0.3" >r</text>
<g transform="translate(15.2,137.4) rotate(-90)" stroke="#000" stroke-width="0.3">
<text x="0.5" y="0" font-size="14.5px" font-style="italic">ρ</text>
<text x="11.2" y="-0.6" font-size="11.5px">−</text>
<text x="17.3" y="0" font-size="13.5px">|</text>
<text x="22.2" y="0" font-size="14px" font-style="italic">p</text>
<text x="30.2" y="1.6" font-size="11.5px" font-style="italic">r</text>
<text x="38.0" y="0" font-size="13.5px">|</text>
</g>
<path d="M278.6,10.85 H323.8" stroke="#ff0000" stroke-width="1.95" fill="none"/>
<text transform="translate(330.50,16.05) scale(1.25,1)" text-anchor="start" font-size="12px" stroke="#000" stroke-width="0.6" font-style="italic" font-weight="normal">α</text>
<text transform="translate(342.30,16.05) scale(1.07,1)" text-anchor="start" font-size="10px" stroke="#000" stroke-width="0.3" >=5,</text>
<text transform="translate(358.90,16.05) scale(1.12,1)" text-anchor="start" font-size="10.5px" stroke="#000" stroke-width="0.3" font-style="italic">λ</text>
<text transform="translate(365.00,16.05) scale(1.2,1)" text-anchor="start" font-size="10px" stroke="#000" stroke-width="0.3" >=</text>
<text transform="translate(372.50,16.05) scale(1.07,1)" text-anchor="start" font-size="10px" stroke="#000" stroke-width="0.3" >30</text>
<path d="M278.6,32.45 H323.8" stroke="#00ff00" stroke-width="1.95" fill="none"/>
<text transform="translate(330.50,37.65) scale(1.25,1)" text-anchor="start" font-size="12px" stroke="#000" stroke-width="0.6" font-style="italic" font-weight="normal">α</text>
<text transform="translate(342.30,37.65) scale(1.07,1)" text-anchor="start" font-size="10px" stroke="#000" stroke-width="0.3" >=5,</text>
<text transform="translate(358.90,37.65) scale(1.12,1)" text-anchor="start" font-size="10.5px" stroke="#000" stroke-width="0.3" font-style="italic">λ</text>
<text transform="translate(365.00,37.65) scale(1.2,1)" text-anchor="start" font-size="10px" stroke="#000" stroke-width="0.3" >=</text>
<text transform="translate(372.50,37.65) scale(1.07,1)" text-anchor="start" font-size="10px" stroke="#000" stroke-width="0.3" >0</text>
<path d="M278.6,54.05 H323.8" stroke="#00ff00" stroke-width="2.3" fill="none" stroke-dasharray="7.3 1.8"/>
<text transform="translate(330.50,59.25) scale(1.25,1)" text-anchor="start" font-size="12px" stroke="#000" stroke-width="0.6" font-style="italic" font-weight="normal">α</text>
<text transform="translate(342.30,59.25) scale(1.07,1)" text-anchor="start" font-size="10px" stroke="#000" stroke-width="0.3" >=0,</text>
<text transform="translate(358.90,59.25) scale(1.12,1)" text-anchor="start" font-size="10.5px" stroke="#000" stroke-width="0.3" font-style="italic">λ</text>
<text transform="translate(365.00,59.25) scale(1.2,1)" text-anchor="start" font-size="10px" stroke="#000" stroke-width="0.3" >=</text>
<text transform="translate(372.50,59.25) scale(1.07,1)" text-anchor="start" font-size="10px" stroke="#000" stroke-width="0.3" >0</text>
<path d="M278.6,75.65 H323.8" stroke="#0000ff" stroke-width="1.95" fill="none"/>
<text transform="translate(330.50,80.85) scale(1.25,1)" text-anchor="start" font-size="12px" stroke="#000" stroke-width="0.6" font-style="italic" font-weight="normal">α</text>
<text transform="translate(342.30,80.85) scale(1.07,1)" text-anchor="start" font-size="10px" stroke="#000" stroke-width="0.3" >=5,</text>
<text transform="translate(358.90,80.85) scale(1.12,1)" text-anchor="start" font-size="10.5px" stroke="#000" stroke-width="0.3" font-style="italic">λ</text>
<text transform="translate(365.00,80.85) scale(1.2,1)" text-anchor="start" font-size="10px" stroke="#000" stroke-width="0.3" >=</text>
<text transform="translate(372.50,80.85) scale(1.07,1)" text-anchor="start" font-size="10px" stroke="#000" stroke-width="0.3" >−30</text>
<path d="M278.6,97.25 H323.8" stroke="#0000ff" stroke-width="2.3" fill="none" stroke-dasharray="7.3 1.8"/>
<text transform="translate(330.50,102.45) scale(1.25,1)" text-anchor="start" font-size="12px" stroke="#000" stroke-width="0.6" font-style="italic" font-weight="normal">α</text>
<text transform="translate(342.30,102.45) scale(1.07,1)" text-anchor="start" font-size="10px" stroke="#000" stroke-width="0.3" >=0,</text>
<text transform="translate(358.90,102.45) scale(1.12,1)" text-anchor="start" font-size="10.5px" stroke="#000" stroke-width="0.3" font-style="italic">λ</text>
<text transform="translate(365.00,102.45) scale(1.2,1)" text-anchor="start" font-size="10px" stroke="#000" stroke-width="0.3" >=</text>
<text transform="translate(372.50,102.45) scale(1.07,1)" text-anchor="start" font-size="10px" stroke="#000" stroke-width="0.3" >−30</text>
</g>
</svg>
</body></html>
